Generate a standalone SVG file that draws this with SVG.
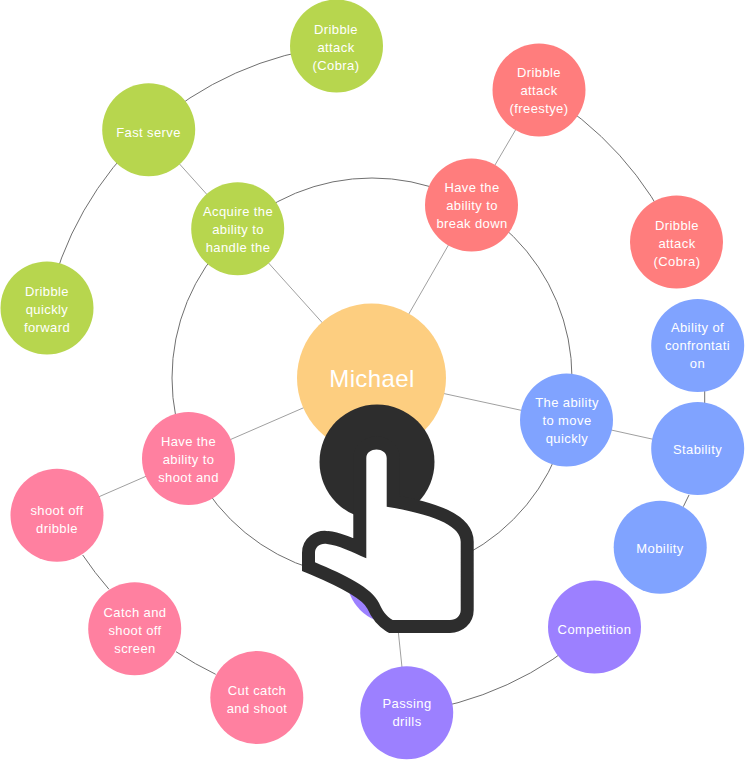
<svg xmlns="http://www.w3.org/2000/svg" width="745" height="760" viewBox="0 0 745 760">
<style>
text{font-family:"Liberation Sans",Arial,sans-serif;font-size:13px;letter-spacing:.4px;fill:#fff;text-anchor:middle}
.c{fill:none;stroke:#707070;stroke-width:1}
.s{fill:none;stroke:#a0a0a0;stroke-width:1}
.g{fill:#b7d64e}.r{fill:#ff7d7d}.b{fill:#80a3ff}.p{fill:#9c80ff}.k{fill:#ff80a0}
</style>
<rect width="745" height="760" fill="#fff"/>
<g id="connectors">
<circle class="c" cx="372" cy="378" r="200"/>
<path class="s" d="M372 378L237.700 228.700M372 378L471.500 205M372 378L566 420M372 378L188 458M372 378L406.700 712.700M237.700 228.700L148.700 129.700M471.500 205L539 90M566 420L697 449M188 458L57 515"/>
<path class="c" d="M704.700 385L704.700 410M689 495L683.300 506.700"/>
<path class="c" d="M47 308A333 333 0 0 1 148.700 129.700A333 333 0 0 1 336 46"/>
<path class="c" d="M539 90A333 333 0 0 1 676 242"/>
<path class="c" d="M82.700 555A333 333 0 0 0 109 589.300M176 651.700A333 333 0 0 0 215.700 674.300"/>
<path class="c" d="M406.700 712.700A333 333 0 0 0 594 627"/>
</g>
<g id="center"><circle cx="371.500" cy="378" r="74.500" fill="#fdce80"/><text x="372" y="387" style="font-size:24px">Michael</text></g>
<g id="n1"><circle class="g" cx="237.700" cy="228.700" r="46.500"/><text x="238" y="216">Acquire the</text><text x="238" y="234">ability to</text><text x="238" y="252">handle the</text></g>
<g id="n2"><circle class="g" cx="148.700" cy="129.700" r="46.500"/><text x="148.500" y="137">Fast serve</text></g>
<g id="n3"><circle class="g" cx="336.500" cy="46" r="46.500"/><text x="336" y="34">Dribble</text><text x="336" y="52">attack</text><text x="336" y="70">(Cobra)</text></g>
<g id="n4"><circle class="g" cx="47" cy="308" r="46.500"/><text x="47" y="296">Dribble</text><text x="47" y="314">quickly</text><text x="47" y="332">forward</text></g>
<g id="n5"><circle class="r" cx="471.500" cy="205" r="46.500"/><text x="472" y="192">Have the</text><text x="472" y="210">ability to</text><text x="472" y="228">break down</text></g>
<g id="n6"><circle class="r" cx="539" cy="90" r="46.500"/><text x="539" y="77">Dribble</text><text x="539" y="95">attack</text><text x="539" y="113">(freestye)</text></g>
<g id="n7"><circle class="r" cx="676.500" cy="242" r="46.500"/><text x="677" y="230">Dribble</text><text x="677" y="248">attack</text><text x="677" y="266">(Cobra)</text></g>
<g id="n8"><circle class="b" cx="566.500" cy="420" r="46.500"/><text x="567" y="407">The ability</text><text x="567" y="425">to move</text><text x="567" y="443">quickly</text></g>
<g id="n9"><circle class="b" cx="697.700" cy="345.500" r="46.500"/><text x="697.500" y="332">Ability of</text><text x="697.500" y="350">confrontati</text><text x="697.500" y="368">on</text></g>
<g id="n10"><circle class="b" cx="697.700" cy="448.500" r="46.500"/><text x="697.500" y="454">Stability</text></g>
<g id="n11"><circle class="b" cx="660.200" cy="547.200" r="46.500"/><text x="660" y="553">Mobility</text></g>
<g id="n12"><circle class="k" cx="188.500" cy="458.500" r="46.500"/><text x="188.500" y="446">Have the</text><text x="188.500" y="464">ability to</text><text x="188.500" y="482">shoot and</text></g>
<g id="n13"><circle class="k" cx="57" cy="515.200" r="46.500"/><text x="57" y="515">shoot off</text><text x="57" y="533">dribble</text></g>
<g id="n14"><circle class="k" cx="134.700" cy="628.700" r="46.500"/><text x="135" y="617">Catch and</text><text x="135" y="635">shoot off</text><text x="135" y="653">screen</text></g>
<g id="n15"><circle class="k" cx="256.800" cy="697.500" r="46.500"/><text x="257" y="695">Cut catch</text><text x="257" y="713">and shoot</text></g>
<g id="n16"><circle class="p" cx="393" cy="577" r="46.500"/></g>
<g id="n17"><circle class="p" cx="406.700" cy="712.700" r="46.500"/><text x="407" y="708">Passing</text><text x="407" y="726">drills</text></g>
<g id="n18"><circle class="p" cx="594.500" cy="627" r="46.500"/><text x="594.500" y="634">Competition</text></g>
<g id="hand">
<circle cx="377" cy="462" r="57.500" fill="#2d2d2d"/>
<path d="M366.300 458C366.300 446.500 386.700 446.500 386.700 458L386.700 506.700C436.700 515 460.700 526.700 460.700 541.700L460.700 610C460.700 616 456 620 450 620L392.700 620C386 616 382 610 379 603C372 588 345 575 315 562.300L315 553C315 547 320 543 327 544C338 545 352 552 366.300 558.300Z" fill="#fff" stroke="#2d2d2d" stroke-width="26" paint-order="stroke" stroke-linejoin="miter"/>
</g>
</svg>
